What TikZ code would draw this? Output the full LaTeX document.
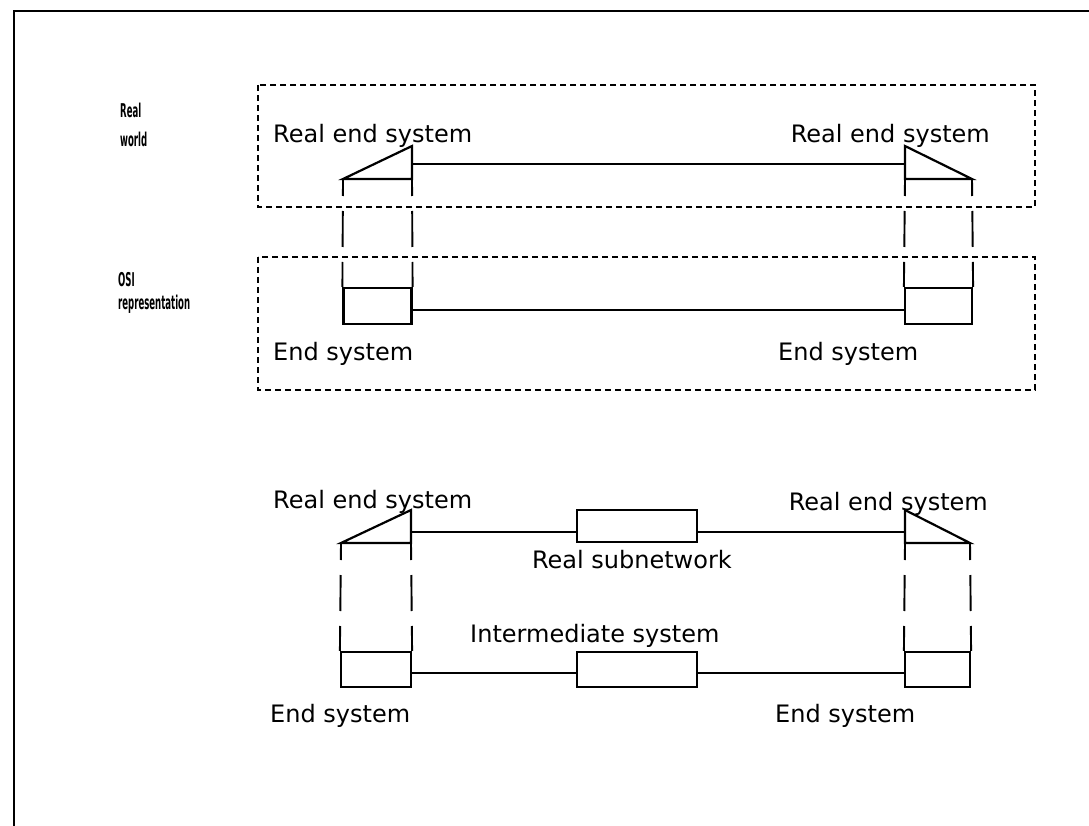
\documentclass[tikz,border=0pt]{standalone}
\usepackage{fontspec}
\setmainfont{DejaVu Sans}
\newfontfamily\sidefont[FakeStretch=0.45]{DejaVu Sans}
\usetikzlibrary{positioning}
\tikzset{
  sysbox/.style={
    rectangle, draw, line width=2.2pt, inner sep=0pt,
    minimum width=68pt, minimum height=36pt
  },
  netbox/.style={
    sysbox, minimum width=120pt, minimum height=34pt
  },
  lbl/.style={
    font=\fontsize{24}{28}\selectfont, inner sep=0pt
  },
  sidelbl/.style={
    font=\sidefont\bfseries\fontsize{19}{21}\selectfont, inner sep=0pt,
    anchor=base west
  },
  link/.style={line width=2.2pt},
  dropline/.style={line width=1.9pt, dash pattern=on 36pt off 15pt, dash phase=19pt},
  groupbox/.style={line width=1.8pt, dash pattern=on 6pt off 4pt},
  frame/.style={line width=2.2pt}
}

\begin{document}
\begin{tikzpicture}[x=1pt, y=-1pt]
  \useasboundingbox (0,0) rectangle (1089,826);
  \draw[frame] (14,826) -- (14,11) -- (1089,11);

  % side labels
  \node[sidelbl] (realw) at (120,118) {Real};
  \node[sidelbl] (world) at (120,147) {world};
  \node[sidelbl] (osi) at (118,287) {OSI};
  \node[sidelbl] (repr) at (118,309) {representation};

  % upper part: real world and OSI representation
  \draw[groupbox] (258,85) rectangle (1035,207);
  \draw[groupbox] (258,257) rectangle (1035,390);

  \node[lbl, anchor=base west] (resTL) at (273,143) {Real end system};
  \node[lbl, anchor=base east] (resTR) at (990,143) {Real end system};

  \coordinate (rwL1) at (343,179);
  \coordinate (rwL2) at (412,179);
  \coordinate (rwR1) at (905,179);
  \coordinate (rwR2) at (972,179);
  \draw[link] (rwL1) -- (412,146) -- (rwL2) -- cycle;
  \draw[link] (rwR2) -- (905,146) -- (rwR1) -- cycle;
  \draw[link] (412,164) -- (905,164);

  \node[sysbox] (osiL) at (377.5,306) {};
  \node[sysbox, minimum width=67pt] (osiR) at (938.5,306) {};
  \draw[link] ([yshift=-4pt]osiL.east) -- ([yshift=-4pt]osiR.west);

  \draw[dropline] (rwL1) -- (osiL.north west);
  \draw[dropline] (rwL2) -- (osiL.north east);
  \draw[dropline] (rwR1) -- (osiR.north west);
  \draw[dropline] (rwR2) -- (osiR.north east);

  \node[lbl, anchor=base west] (esTL) at (273,360) {End system};
  \node[lbl, anchor=base west] (esTR) at (778,360) {End system};

  % lower part: with intermediate system
  \node[lbl, anchor=base west] (resBL) at (273,508) {Real end system};
  \node[lbl, anchor=base east] (resBR) at (988,510) {Real end system};

  \coordinate (rbL1) at (341,543);
  \coordinate (rbL2) at (411,543);
  \coordinate (rbR1) at (905,543);
  \coordinate (rbR2) at (970,543);
  \draw[link] (rbL1) -- (411,510) -- (rbL2) -- cycle;
  \draw[link] (rbR2) -- (905,510) -- (rbR1) -- cycle;

  \node[netbox, minimum height=32pt] (subnet) at (637,526) {};
  \draw[link] (411,532) -- (subnet.west |- 0,532);
  \draw[link] (subnet.east |- 0,532) -- (905,532);
  \node[lbl, anchor=base east] (subnetlbl) at (732,568) {Real subnetwork};

  \node[lbl, anchor=base west] (islbl) at (470,642) {Intermediate system};

  \node[sysbox, minimum width=70pt, minimum height=35pt] (esBL) at (376,669.5) {};
  \node[netbox, minimum height=35pt] (isys) at (637,669.5) {};
  \node[sysbox, minimum width=65pt, minimum height=35pt] (esBR) at (937.5,669.5) {};
  \draw[link] ([yshift=-3.5pt]esBL.east) -- ([yshift=-3.5pt]isys.west);
  \draw[link] ([yshift=-3.5pt]isys.east) -- ([yshift=-3.5pt]esBR.west);

  \draw[dropline] (rbL1) -- (esBL.north west);
  \draw[dropline] (rbL2) -- (esBL.north east);
  \draw[dropline] (rbR1) -- (esBR.north west);
  \draw[dropline] (rbR2) -- (esBR.north east);

  \node[lbl, anchor=base west] (esBLlbl) at (270,722) {End system};
  \node[lbl, anchor=base west] (esBRlbl) at (775,722) {End system};
\end{tikzpicture}
\end{document}
